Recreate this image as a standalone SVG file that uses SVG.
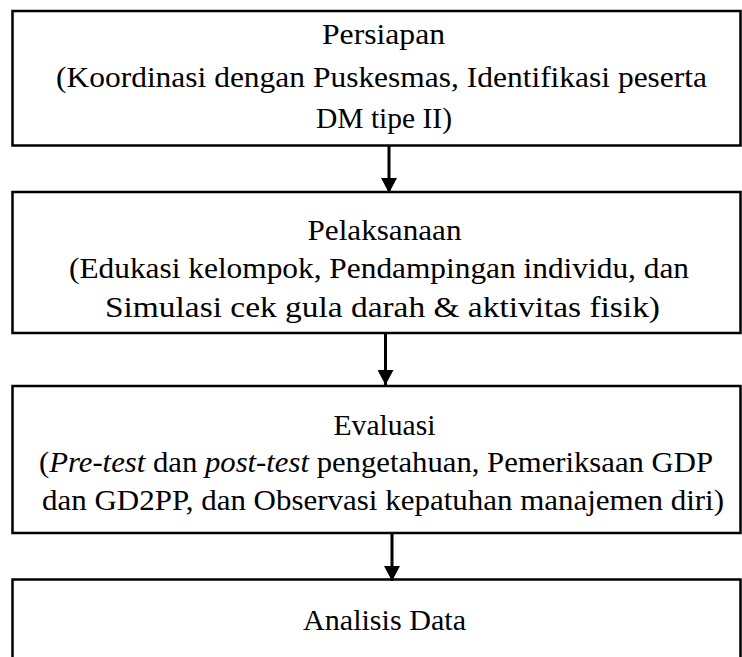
<svg xmlns="http://www.w3.org/2000/svg" width="742" height="657" viewBox="0 0 742 657">
<style>
.box{fill:#fff;stroke:#000;stroke-width:2.5}
.t{font-family:"Liberation Serif","Times New Roman",serif;font-size:30px;fill:#000;text-anchor:middle}
.it{font-style:italic}
.conn{stroke:#000;stroke-width:3;fill:none}
</style>
<defs>
<marker id="ah" viewBox="0 0 16 16" refX="15" refY="8" markerWidth="16" markerHeight="16" markerUnits="userSpaceOnUse" orient="auto">
<path d="M0,0 L15,8 L0,16 z" fill="#000"/>
</marker>
</defs>
<rect width="742" height="657" fill="#fff"/>
<g id="n1">
<rect class="box" x="12.5" y="11" width="728" height="134.5"/>
<text class="t" x="383.5" y="44" textLength="123" lengthAdjust="spacingAndGlyphs">Persiapan</text>
<text class="t" x="381.5" y="87" textLength="651" lengthAdjust="spacingAndGlyphs">(Koordinasi dengan Puskesmas, Identifikasi peserta</text>
<text class="t" x="384" y="128" textLength="136" lengthAdjust="spacingAndGlyphs">DM tipe II)</text>
</g>
<g id="n2">
<rect class="box" x="12.5" y="192" width="728" height="141"/>
<text class="t" x="384.5" y="240" textLength="154" lengthAdjust="spacingAndGlyphs">Pelaksanaan</text>
<text class="t" x="379" y="278" textLength="620" lengthAdjust="spacingAndGlyphs">(Edukasi kelompok, Pendampingan individu, dan</text>
<text class="t" x="382.5" y="317" textLength="555" lengthAdjust="spacingAndGlyphs">Simulasi cek gula darah &amp; aktivitas fisik)</text>
</g>
<g id="n3">
<rect class="box" x="12.5" y="386" width="728" height="147"/>
<text class="t" x="384.5" y="435" textLength="102" lengthAdjust="spacingAndGlyphs">Evaluasi</text>
<text class="t" x="376" y="472" textLength="674" lengthAdjust="spacingAndGlyphs">(<tspan class="it">Pre-test</tspan> dan <tspan class="it">post-test</tspan> pengetahuan, Pemeriksaan GDP</text>
<text class="t" x="383" y="510" textLength="682" lengthAdjust="spacingAndGlyphs">dan GD2PP, dan Observasi kepatuhan manajemen diri)</text>
</g>
<g id="n4">
<rect class="box" x="12.5" y="579.5" width="728" height="100"/>
<text class="t" x="384.5" y="630" textLength="163" lengthAdjust="spacingAndGlyphs">Analisis Data</text>
</g>
<g id="connectors">
<line class="conn" x1="389" y1="145.5" x2="389" y2="193" marker-end="url(#ah)"/>
<line class="conn" x1="385.5" y1="333" x2="385.5" y2="385" marker-end="url(#ah)"/>
<line class="conn" x1="392" y1="533" x2="392" y2="581" marker-end="url(#ah)"/>
</g>
</svg>
